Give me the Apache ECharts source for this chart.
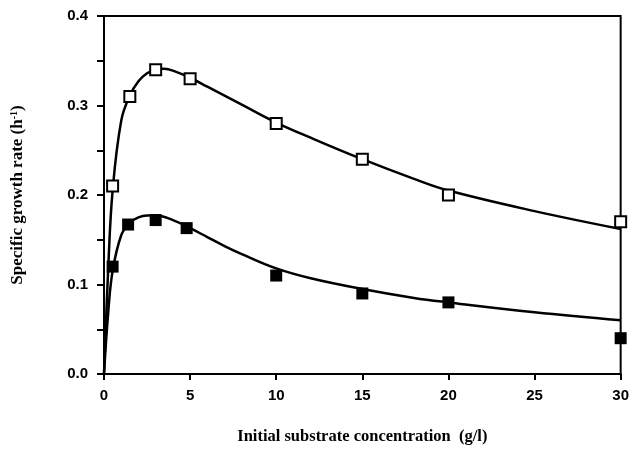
<!DOCTYPE html>
<html>
<head>
<meta charset="utf-8">
<script src="https://cdn.jsdelivr.net/npm/echarts@6/dist/echarts.min.js"></script>
<style>html,body{margin:0;padding:0;background:#fff}#c{width:632px;height:450px}</style>
</head>
<body>
<div id="c"></div>
<script>
// Measured data points (open squares / filled squares)
var openX = [0.5, 1.5, 3, 5, 10, 15, 20, 30];
var openY = [0.21, 0.31, 0.34, 0.33, 0.28, 0.24, 0.20, 0.17];
var filledX = [0.5, 1.4, 3, 4.8, 10, 15, 20, 30];
var filledY = [0.12, 0.167, 0.172, 0.163, 0.11, 0.09, 0.08, 0.04];
// Fitted curves
var openFitX = [0, 0.25, 0.5, 1, 1.5, 2, 2.5, 3, 3.5, 4, 5, 6, 7, 8, 10, 12, 15, 18, 20, 25, 30];
var openFitY = [0, 0.12, 0.205, 0.283, 0.311, 0.327, 0.336, 0.340, 0.341, 0.339, 0.331, 0.321, 0.311, 0.301, 0.281, 0.264, 0.240, 0.218, 0.205, 0.182, 0.162];
var filledFitX = [0, 0.25, 0.5, 1, 1.5, 2, 2.5, 3, 4, 5, 6, 7, 8, 10, 12, 15, 18, 20, 25, 30];
var filledFitY = [0, 0.07, 0.115, 0.155, 0.169, 0.175, 0.177, 0.177, 0.172, 0.163, 0.153, 0.143, 0.134, 0.118, 0.107, 0.095, 0.085, 0.080, 0.069, 0.060];
var xTicks = [0, 5, 10, 15, 20, 25, 30];

function pairs(xs, ys) { return xs.map(function (x, i) { return [x, ys[i]]; }); }

var chart = echarts.init(document.getElementById('c'));
chart.setOption({
  animation: false,
  backgroundColor: '#fff',
  grid: { left: 104, right: 7, top: 16, bottom: 69, show: true, borderColor: '#000', borderWidth: 2, backgroundColor: 'transparent' },
  xAxis: {
    type: 'value', min: xTicks[0], max: xTicks[xTicks.length - 1], interval: 5,
    splitLine: { show: false },
    axisLine: { show: true, lineStyle: { color: '#000', width: 2 } },
    axisTick: { show: true, length: 6, lineStyle: { color: '#000', width: 2 } },
    axisLabel: { color: '#000', fontFamily: 'Liberation Sans', fontSize: 15, fontWeight: 'bold', margin: 14 },
    name: 'Initial substrate concentration  (g/l)',
    nameLocation: 'middle', nameGap: 54,
    nameTextStyle: { color: '#000', fontFamily: 'Liberation Serif', fontSize: 16.5, fontWeight: 'bold' }
  },
  yAxis: {
    type: 'value', min: 0, max: 0.4, interval: 0.05,
    splitLine: { show: false },
    axisLine: { show: true, lineStyle: { color: '#000', width: 2 } },
    axisTick: { show: true, length: 7, lineStyle: { color: '#000', width: 2 } },
    axisLabel: {
      color: '#000', fontFamily: 'Liberation Sans', fontSize: 15, fontWeight: 'bold', margin: 16,
      formatter: function (v) {
        var t = Math.round(v * 100);
        return (t % 10 === 0) ? (t / 100).toFixed(1) : '';
      }
    },
    name: 'Specific growth rate (h{sup|-1})',
    nameLocation: 'middle', nameGap: 78, nameRotate: 90,
    nameTextStyle: {
      color: '#000', fontFamily: 'Liberation Serif', fontSize: 17, fontWeight: 'bold',
      rich: { sup: { fontFamily: 'Liberation Serif', fontSize: 10, fontWeight: 'bold', verticalAlign: 'top', color: '#000', padding: [0, 0, 6, 0] } }
    }
  },
  series: [
    { type: 'line', data: pairs(openFitX, openFitY), smooth: 0.4, showSymbol: false, lineStyle: { color: '#000', width: 2.5 }, z: 2 },
    { type: 'line', data: pairs(filledFitX, filledFitY), smooth: 0.4, showSymbol: false, lineStyle: { color: '#000', width: 2.5 }, z: 2 },
    { type: 'scatter', data: pairs(openX, openY), symbol: 'rect', symbolSize: 11, clip: false, itemStyle: { color: '#fff', borderColor: '#000', borderWidth: 2, opacity: 1 }, z: 5 },
    { type: 'scatter', data: pairs(filledX, filledY), symbol: 'rect', symbolSize: 12, clip: false, itemStyle: { color: '#000', opacity: 1 }, z: 5 }
  ]
});
</script>
</body>
</html>
